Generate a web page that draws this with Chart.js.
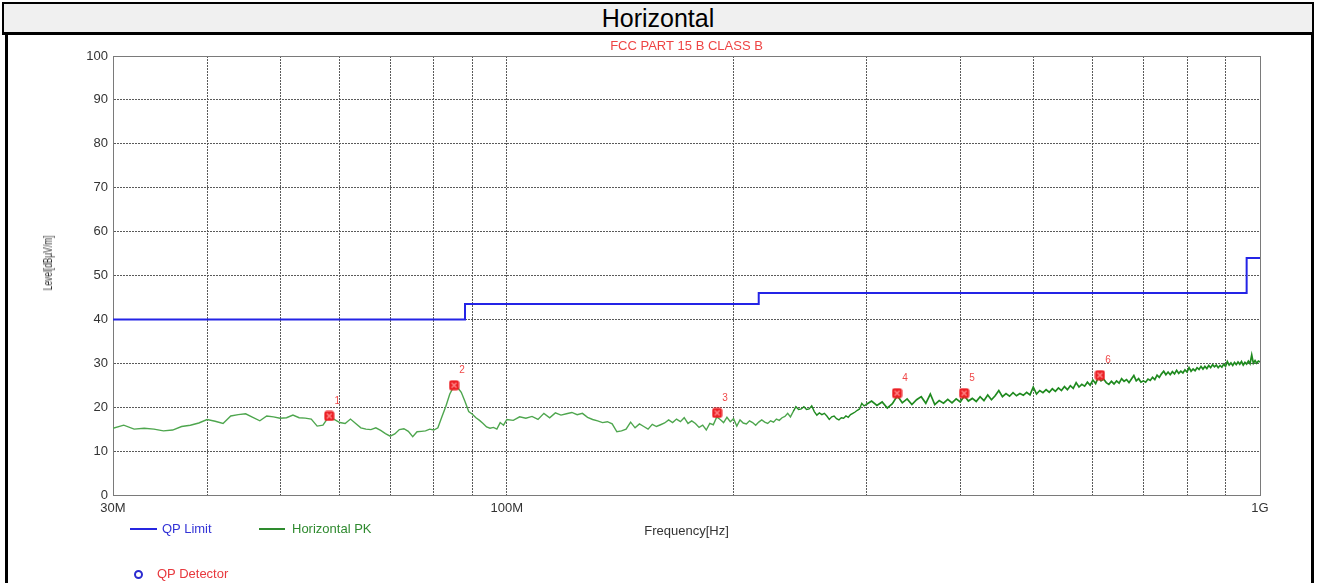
<!DOCTYPE html>
<html>
<head>
<meta charset="utf-8">
<title>Horizontal</title>
<script src="https://cdn.jsdelivr.net/npm/chart.js@4.4.1/dist/chart.umd.min.js"></script>
<style>
  body { margin: 0; width: 1318px; height: 583px; overflow: hidden; background: #fff; position: relative; font-family: 'Liberation Sans', Arial, sans-serif; }
  #head { position: absolute; left: 2px; top: 2px; width: 1308px; height: 28px; border: 2px solid #000; border-bottom: 3px solid #000; background: #f0f0f0; text-align: center; font-size: 25px; line-height: 29px; color: #000; }
  #frame { position: absolute; left: 5px; top: 35px; width: 1303px; height: 560px; border-left: 3px solid #000; border-right: 3px solid #000; }
  #chart { position: absolute; left: 0; top: 0; }
  .lg { position: absolute; font-size: 13px; line-height: 15px; white-space: nowrap; }
  .sw { position: absolute; height: 2px; }
  #ytitle { position: absolute; left: 48px; top: 263px; font-size: 12px; color: #333; white-space: nowrap; transform: translate(-50%, -50%) rotate(-90deg) scaleX(0.7); }
</style>
</head>
<body>
<div id="head">Horizontal</div>
<div id="frame"></div>
<canvas id="chart" width="1318" height="583"></canvas>
<div id="ytitle">Level[dBµV/m]</div>
<div class="sw" style="left:130px;top:528px;width:27px;background:#2626e0"></div>
<div class="lg" style="left:162px;top:521px;color:#3333d6">QP Limit</div>
<div class="sw" style="left:259px;top:528px;width:26px;background:#2e8b2e"></div>
<div class="lg" style="left:292px;top:521px;color:#2f8a2f">Horizontal PK</div>
<div style="position:absolute;left:134px;top:570px;width:5px;height:5px;border:2px solid #2b2bd0;border-radius:50%"></div>
<div class="lg" style="left:157px;top:566px;color:#e8383d">QP Detector</div>
<script>
// limit line (FCC class B, 3 m)
const limitFreqs = [30, 88, 88, 216, 216, 960, 960, 1000];
const limitLevels = [40, 40, 43.5, 43.5, 46, 46, 54, 54];

// peak scan, MHz
const pkFreqs = [
  30, 31, 32, 33, 34, 35, 36, 37, 38, 39, 40, 41, 42, 43, 44, 45, 46, 47, 48, 49,
  50, 51, 52, 53, 54, 55, 56, 57, 58, 59, 60, 61, 62, 63, 64, 65, 66, 67, 68, 69,
  70, 71, 72, 73, 74, 75, 76, 77, 78, 79, 80, 81, 82, 83, 84, 85, 86, 87, 88, 89,
  90, 91, 92, 93, 94, 95, 96, 97, 98, 99, 100,
  102, 104, 106, 108, 110, 112, 114, 116, 118, 120, 122, 124, 126, 128, 130, 132, 134, 136, 138, 140,
  142, 144, 146, 148, 150, 152, 154, 156, 158, 160, 162, 164, 166, 168, 170, 172, 174, 176, 178, 180,
  182, 184, 186, 188, 190, 192, 194, 196, 198, 200, 202, 204, 206, 208, 210, 212, 214, 216, 218, 220,
  222, 224, 226, 228, 230, 232, 234, 236, 238, 240, 242, 244, 246, 248, 250, 252, 254, 256, 258, 260,
  262, 264, 266, 268, 270, 272, 274, 276, 278, 280, 282, 284, 286, 288, 290, 292, 294, 296, 298, 300,
  305, 310, 315, 320, 325, 330, 335, 340, 345, 350, 355, 360, 365, 370, 375, 380, 385, 390, 395, 400,
  405, 410, 415, 420, 425, 430, 435, 440, 445, 450, 455, 460, 465, 470, 475, 480, 485, 490, 495, 500,
  505, 510, 515, 520, 525, 530, 535, 540, 545, 550, 555, 560, 565, 570, 575, 580, 585, 590, 595, 600,
  605, 610, 615, 620, 625, 630, 635, 640, 645, 650, 655, 660, 665, 670, 675, 680, 685, 690, 695, 700,
  705, 710, 715, 720, 725, 730, 735, 740, 745, 750, 755, 760, 765, 770, 775, 780, 785, 790, 795, 800,
  805, 810, 815, 820, 825, 830, 835, 840, 845, 850, 855, 860, 865, 870, 875, 880, 885, 890, 895, 900,
  905, 910, 915, 920, 925, 930, 935, 940, 945, 950, 955, 960, 965, 970, 975, 980, 985, 990, 995, 1000,
];
const pkLevels = [
  15.2, 15.9, 15.0, 15.2, 15.0, 14.6, 14.8, 15.6, 15.9, 16.4, 17.2, 16.8, 16.3, 18.0, 18.3, 18.5, 17.7, 16.9, 18.0, 17.8,
  17.5, 17.6, 18.2, 17.6, 17.5, 17.3, 15.7, 15.9, 17.8, 17.2, 16.5, 16.3, 17.3, 16.3, 15.3, 15.0, 14.9, 15.3, 14.7, 14.0,
  13.4, 13.9, 14.9, 15.1, 14.5, 13.3, 14.4, 14.5, 14.6, 15.0, 14.8, 15.3, 17.8, 20.2, 23.0, 24.7, 24.5, 23.4, 21.3, 19.0,
  18.4, 17.6, 17.0, 16.3, 15.5, 15.2, 15.4, 15.0, 16.5, 15.9, 17.2,
  17.0, 17.8, 17.5, 17.9, 17.2, 18.6, 17.6, 18.7, 18.2, 18.5, 18.8, 18.3, 18.6, 17.7, 17.2, 16.9, 16.5, 16.7, 16.2, 14.4,
  14.6, 15.0, 16.6, 15.3, 16.2, 15.6, 15.0, 16.1, 15.6, 16.0, 16.4, 17.1, 16.5, 17.3, 16.7, 17.6, 16.3, 16.9, 16.3, 15.4,
  15.9, 14.8, 16.3, 16.0, 17.8, 17.2, 16.5, 17.7, 16.7, 17.4, 15.7, 17.1, 16.4, 16.2, 16.9, 16.5, 15.9, 16.6, 17.1, 16.6,
  16.3, 16.9, 16.6, 17.3, 17.0, 17.6, 17.9, 18.6, 17.8, 19.0, 20.1, 19.5, 19.6, 20.1, 19.5, 19.6, 20.3, 19.0, 18.2, 18.7,
  18.3, 18.6, 18.0, 17.2, 17.8, 18.0, 17.4, 17.1, 17.6, 17.5, 18.0, 17.7, 18.3, 18.6, 18.9, 19.3, 19.6, 20.9, 20.3, 20.6,
  21.4, 20.4, 21.2, 19.8, 20.8, 22.6, 21.0, 21.9, 20.6, 21.7, 22.4, 20.9, 23.0, 20.6, 21.5, 20.9, 21.8, 21.0, 21.9, 21.2,
  22.6, 21.4, 22.0, 21.3, 22.4, 21.5, 22.8, 21.7, 22.6, 23.8, 22.4, 23.1, 22.5, 23.3, 22.6, 23.1, 22.7, 23.4, 22.8, 24.6,
  23.0, 23.8, 23.3, 24.0, 23.4, 24.2, 23.6, 24.4, 23.8, 24.7, 24.0, 24.9, 24.3, 25.6, 24.6, 25.2, 24.8, 25.7, 25.0, 26.2,
  25.4, 26.8, 26.0, 26.4, 25.6, 25.2, 25.9, 25.3, 26.0, 25.5, 26.5, 25.9, 26.3, 25.6, 26.4, 27.2, 26.0, 26.5, 25.7, 26.0,
  25.7, 26.4, 26.1, 26.8, 26.3, 27.3, 26.8, 27.6, 28.2, 27.4, 28.0, 27.4, 28.1, 27.6, 28.4, 27.7, 28.2, 27.8, 28.5, 28.0,
  29.0, 28.2, 28.7, 28.3, 29.0, 28.6, 29.3, 28.7, 29.3, 28.8, 29.5, 29.0, 29.7, 29.2, 29.6, 29.0, 29.5, 29.1, 29.8, 29.3,
  30.4, 29.6, 30.1, 29.5, 30.2, 29.7, 30.3, 29.8, 30.4, 29.6, 30.2, 29.8, 30.5, 29.9, 31.9, 30.0, 30.6, 30.0, 30.5, 30.3,
];

// marked peaks
const peakFreqs = [58.1, 85.1, 190.2, 329.7, 404.7, 613.0];
const peakLevels = [18.0, 25.0, 18.7, 23.2, 23.2, 27.3];
const peakNames = ['1', '2', '3', '4', '5', '6'];

// axis grid
const gridFreqs = [30, 40, 50, 60, 70, 80, 90, 100, 200, 300, 400, 500, 600, 700, 800, 900, 1000];
const gridLabels = ['30M', '', '', '', '', '', '', '100M', '', '', '', '', '', '', '', '', '1G'];

const toPoints = (xs, ys) => xs.map((x, i) => ({ x, y: ys[i] }));

// red square marker with a light cross
const markerImg = document.createElement('canvas');
markerImg.width = 11;
markerImg.height = 11;
const mctx = markerImg.getContext('2d');
mctx.fillStyle = '#ec1f24';
mctx.beginPath();
mctx.roundRect(0.5, 0.5, 10, 10, 2.5);
mctx.fill();
mctx.strokeStyle = '#ff8f8f';
mctx.lineWidth = 1.2;
mctx.beginPath();
mctx.moveTo(3, 3); mctx.lineTo(8, 8);
mctx.moveTo(8, 3); mctx.lineTo(3, 8);
mctx.stroke();

const framePlugin = {
  id: 'frameAndNames',
  beforeDatasetsDraw(chart) {
    const { ctx, chartArea: a } = chart;
    ctx.save();
    ctx.strokeStyle = '#7a7a7a';
    ctx.lineWidth = 1;
    ctx.strokeRect(Math.round(a.left) + 0.5, Math.round(a.top) + 0.5, Math.round(a.right - a.left), Math.round(a.bottom - a.top));
    ctx.restore();
  },
  afterDatasetsDraw(chart) {
    const { ctx, scales: { x, y } } = chart;
    ctx.save();
    ctx.fillStyle = '#f04848';
    ctx.font = '10px "Liberation Sans", Arial, sans-serif';
    ctx.textAlign = 'center';
    ctx.textBaseline = 'middle';
    peakFreqs.forEach((f, i) => {
      ctx.fillText(peakNames[i], x.getPixelForValue(f) + 8, y.getPixelForValue(peakLevels[i]) - 15);
    });
    ctx.restore();
  },
};

Chart.defaults.font.family = '"Liberation Sans", Arial, sans-serif';

new Chart(document.getElementById('chart'), {
  type: 'line',
  data: {
    datasets: [
      {
        label: 'QP Detector',
        data: toPoints(peakFreqs, peakLevels),
        showLine: false,
        pointStyle: markerImg,
        pointRadius: 5,
        order: 0,
      },
      {
        label: 'QP Limit',
        data: toPoints(limitFreqs, limitLevels),
        borderColor: '#2424e6',
        borderWidth: 2,
        pointRadius: 0,
        tension: 0,
        order: 1,
      },
      {
        label: 'Horizontal PK',
        data: toPoints(pkFreqs, pkLevels),
        borderColor: '#4ea64e',
        borderWidth: 1.4,
        pointRadius: 0,
        tension: 0,
        order: 2,
        // dense sweep above 200 MHz reads darker in the original
        segment: {
          borderColor: (c) => (c.p0.parsed.x >= 240 ? '#1f8a1f' : undefined),
          borderWidth: (c) => (c.p0.parsed.x >= 300 ? 1.7 : undefined),
        },
      },
    ],
  },
  plugins: [framePlugin],
  options: {
    responsive: false,
    animation: false,
    devicePixelRatio: 1,
    layout: { padding: { left: 73, right: 58, top: 39, bottom: 43 } },
    plugins: {
      legend: { display: false },
      tooltip: { enabled: false },
      title: {
        display: true,
        fullSize: false,
        text: 'FCC PART 15 B CLASS B',
        color: '#ee4444',
        font: { size: 13, weight: 'normal' },
        padding: { top: 0, bottom: 1.4 },
      },
    },
    scales: {
      x: {
        type: 'logarithmic',
        min: 30,
        max: 1000,
        afterBuildTicks: (axis) => { axis.ticks = gridFreqs.map((v) => ({ value: v })); },
        afterFit: (axis) => { axis.height = 45; },
        ticks: {
          autoSkip: false,
          maxRotation: 0,
          padding: 6,
          color: '#333',
          font: { size: 13 },
          callback: (value, index) => gridLabels[index],
        },
        grid: { color: '#5a5a5a', lineWidth: 1, drawTicks: false },
        border: { display: true, color: '#7a7a7a', dash: [2, 1] },
        title: {
          display: true,
          text: 'Frequency[Hz]',
          color: '#333',
          font: { size: 13 },
          padding: { top: 0, bottom: 1 },
        },
      },
      y: {
        min: 0,
        max: 100,
        afterFit: (axis) => { axis.width = 40; },
        ticks: { stepSize: 10, padding: 5, color: '#333', font: { size: 13 } },
        grid: { color: '#5a5a5a', lineWidth: 1, drawTicks: false },
        border: { display: true, color: '#7a7a7a', dash: [2, 1] },
      },
    },
  },
});
</script>
</body>
</html>
